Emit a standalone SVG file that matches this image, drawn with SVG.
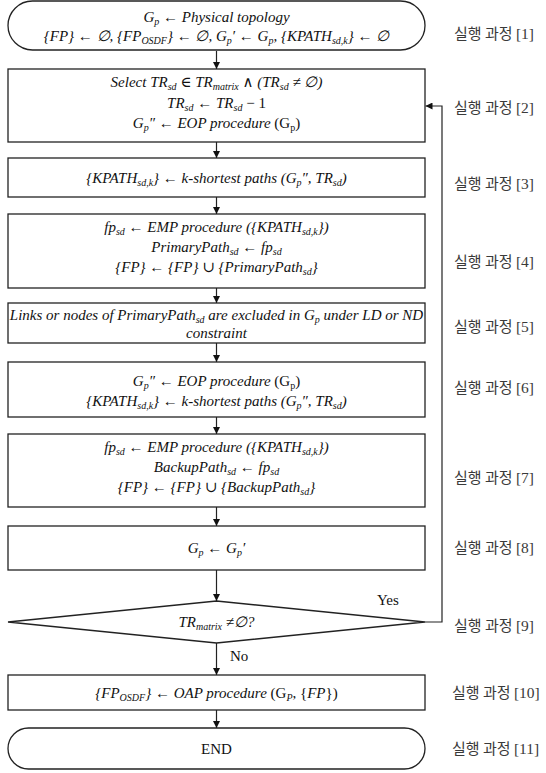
<svg xmlns="http://www.w3.org/2000/svg" width="546" height="773" viewBox="0 0 546 773">
  <style>
    .box { fill: #fff; stroke: #222; stroke-width: 1.3; }
    .ln { fill: none; stroke: #222; stroke-width: 1.2; }
    .m { font-family: "Liberation Serif", "DejaVu Serif", serif; font-style: italic; font-size: 15px; fill: #111; text-anchor: middle; }
    .r { font-family: "Liberation Serif", "DejaVu Serif", serif; font-size: 15px; fill: #111; }
    .s { font-size: 10px; }
    .u { font-style: normal; }
    .lab { font-family: "Noto Sans CJK KR", "Noto Sans", sans-serif; font-size: 15px; fill: #3a3a3a; }
    .lab tspan { font-family: "Liberation Serif", serif; font-size: 15.5px; }
  </style>
  <defs>
    <marker id="ah" viewBox="0 0 8 8" refX="8" refY="4" markerWidth="7" markerHeight="7" markerUnits="userSpaceOnUse" orient="auto">
      <path d="M0,0 L8,4 L0,8 z" fill="#111"/>
    </marker>
  </defs>

  <!-- connectors -->
  <g id="connectors">
    <line class="ln" x1="216.5" y1="51" x2="216.5" y2="69" marker-end="url(#ah)"/>
    <line class="ln" x1="216.5" y1="142" x2="216.5" y2="158" marker-end="url(#ah)"/>
    <line class="ln" x1="216.5" y1="197" x2="216.5" y2="214" marker-end="url(#ah)"/>
    <line class="ln" x1="216.5" y1="288" x2="216.5" y2="303" marker-end="url(#ah)"/>
    <line class="ln" x1="216.5" y1="343" x2="216.5" y2="362" marker-end="url(#ah)"/>
    <line class="ln" x1="216.5" y1="417" x2="216.5" y2="434" marker-end="url(#ah)"/>
    <line class="ln" x1="216.5" y1="507" x2="216.5" y2="526" marker-end="url(#ah)"/>
    <line class="ln" x1="216.5" y1="570" x2="216.5" y2="601" marker-end="url(#ah)"/>
    <line class="ln" x1="216.5" y1="643" x2="216.5" y2="675" marker-end="url(#ah)"/>
    <line class="ln" x1="216.5" y1="710" x2="216.5" y2="728" marker-end="url(#ah)"/>
    <polyline class="ln" points="425,622 442,622 442,106 425.5,106" marker-end="url(#ah)"/>
    <text class="r" x="377" y="605">Yes</text>
    <text class="r" x="230" y="661">No</text>
  </g>

  <!-- step 1: initialisation -->
  <g id="n1">
    <rect class="box" x="8" y="1" width="417" height="49" rx="24.5"/>
    <text class="m" x="216.5" y="22">G<tspan class="s" dy="3">p</tspan><tspan dy="-3"> ← Physical topology</tspan></text>
    <text class="m" x="216.5" y="41">{FP} ← ∅, {FP<tspan class="s" dy="3">OSDF</tspan><tspan dy="-3">} ← ∅, G</tspan><tspan class="s" dy="3">p</tspan><tspan dy="-3">′ ← G</tspan><tspan class="s" dy="3">p</tspan><tspan dy="-3">,  {KPATH</tspan><tspan class="s" dy="3">sd,k</tspan><tspan dy="-3">} ← ∅</tspan></text>
  </g>

  <!-- step 2 -->
  <g id="n2">
    <rect class="box" x="8" y="69" width="417" height="73"/>
    <text class="m" x="216.5" y="87">Select TR<tspan class="s" dy="3">sd</tspan><tspan dy="-3"> ∈ TR</tspan><tspan class="s" dy="3">matrix</tspan><tspan dy="-3"> ∧ (TR</tspan><tspan class="s" dy="3">sd</tspan><tspan dy="-3"> ≠ ∅)</tspan></text>
    <text class="m" x="216.5" y="108">TR<tspan class="s" dy="3">sd</tspan><tspan dy="-3"> ← TR</tspan><tspan class="s" dy="3">sd</tspan><tspan dy="-3" class="u">  − 1</tspan></text>
    <text class="m" x="216.5" y="128">G<tspan class="s" dy="3">p</tspan><tspan dy="-3">″ ← EOP procedure </tspan><tspan class="u">(G</tspan><tspan class="s u" dy="3">p</tspan><tspan dy="-3" class="u">)</tspan></text>
  </g>

  <!-- step 3 -->
  <g id="n3">
    <rect class="box" x="8" y="158" width="417" height="39"/>
    <text class="m" x="216.5" y="183">{KPATH<tspan class="s" dy="3">sd,k</tspan><tspan dy="-3">} ← k-shortest paths (G</tspan><tspan class="s" dy="3">p</tspan><tspan dy="-3">″, TR</tspan><tspan class="s" dy="3">sd</tspan><tspan dy="-3">)</tspan></text>
  </g>

  <!-- step 4 -->
  <g id="n4">
    <rect class="box" x="8" y="214" width="417" height="74"/>
    <text class="m" x="216.5" y="232">fp<tspan class="s" dy="3">sd</tspan><tspan dy="-3"> ← EMP procedure ({KPATH</tspan><tspan class="s" dy="3">sd,k</tspan><tspan dy="-3">})</tspan></text>
    <text class="m" x="216.5" y="252">PrimaryPath<tspan class="s" dy="3">sd</tspan><tspan dy="-3"> ← fp</tspan><tspan class="s" dy="3">sd</tspan></text>
    <text class="m" x="216.5" y="272">{FP}  ← {FP} ∪ {PrimaryPath<tspan class="s" dy="3">sd</tspan><tspan dy="-3">}</tspan></text>
  </g>

  <!-- step 5 -->
  <g id="n5">
    <rect class="box" x="8" y="303" width="417" height="40"/>
    <text class="m" x="216.5" y="320">Links or nodes of PrimaryPath<tspan class="s" dy="3">sd</tspan><tspan dy="-3"> are excluded in G</tspan><tspan class="s" dy="3">p</tspan><tspan dy="-3"> under LD or ND</tspan></text>
    <text class="m" x="216.5" y="338">constraint</text>
  </g>

  <!-- step 6 -->
  <g id="n6">
    <rect class="box" x="8" y="362" width="417" height="55"/>
    <text class="m" x="216.5" y="386">G<tspan class="s" dy="3">p</tspan><tspan dy="-3">″ ← EOP procedure </tspan><tspan class="u">(G</tspan><tspan class="s u" dy="3">p</tspan><tspan dy="-3" class="u">)</tspan></text>
    <text class="m" x="216.5" y="406">{KPATH<tspan class="s" dy="3">sd,k</tspan><tspan dy="-3">} ← k-shortest paths (G</tspan><tspan class="s" dy="3">p</tspan><tspan dy="-3">″, TR</tspan><tspan class="s" dy="3">sd</tspan><tspan dy="-3">)</tspan></text>
  </g>

  <!-- step 7 -->
  <g id="n7">
    <rect class="box" x="8" y="434" width="417" height="73"/>
    <text class="m" x="216.5" y="452">fp<tspan class="s" dy="3">sd</tspan><tspan dy="-3"> ← EMP procedure ({KPATH</tspan><tspan class="s" dy="3">sd,k</tspan><tspan dy="-3">})</tspan></text>
    <text class="m" x="216.5" y="472">BackupPath<tspan class="s" dy="3">sd</tspan><tspan dy="-3"> ← fp</tspan><tspan class="s" dy="3">sd</tspan></text>
    <text class="m" x="216.5" y="492">{FP}  ← {FP} ∪ {BackupPath<tspan class="s" dy="3">sd</tspan><tspan dy="-3">}</tspan></text>
  </g>

  <!-- step 8 -->
  <g id="n8">
    <rect class="box" x="8" y="526" width="417" height="44"/>
    <text class="m" x="216.5" y="553">G<tspan class="s" dy="3">p</tspan><tspan dy="-3"> ← G</tspan><tspan class="s" dy="3">p</tspan><tspan dy="-3">′</tspan></text>
  </g>

  <!-- step 9: decision -->
  <g id="n9">
    <polygon class="box" points="216.5,601 425,622 216.5,643 8,622"/>
    <text class="m" x="216.5" y="627">TR<tspan class="s" dy="3">matrix</tspan><tspan dy="-3"> ≠∅?</tspan></text>
  </g>

  <!-- step 10 -->
  <g id="n10">
    <rect class="box" x="8" y="675" width="417" height="35"/>
    <text class="m" x="216.5" y="698">{FP<tspan class="s" dy="3">OSDF</tspan><tspan dy="-3">} ← OAP procedure </tspan><tspan class="u">(G</tspan><tspan class="s" dy="3">P</tspan><tspan dy="-3" class="u">,  {</tspan><tspan>FP</tspan><tspan class="u">})</tspan></text>
  </g>

  <!-- step 11: end -->
  <g id="n11">
    <rect class="box" x="8" y="728" width="417" height="41" rx="20.5"/>
    <text class="m u" x="216.5" y="754">END</text>
  </g>

  <!-- step labels -->
  <g id="labels">
    <text class="lab" x="454" y="39">실행 과정 <tspan>[1]</tspan></text>
    <text class="lab" x="454" y="113">실행 과정 <tspan>[2]</tspan></text>
    <text class="lab" x="454" y="189">실행 과정 <tspan>[3]</tspan></text>
    <text class="lab" x="454" y="267">실행 과정 <tspan>[4]</tspan></text>
    <text class="lab" x="454" y="332">실행 과정 <tspan>[5]</tspan></text>
    <text class="lab" x="454" y="393">실행 과정 <tspan>[6]</tspan></text>
    <text class="lab" x="454" y="483">실행 과정 <tspan>[7]</tspan></text>
    <text class="lab" x="454" y="553">실행 과정 <tspan>[8]</tspan></text>
    <text class="lab" x="454" y="631">실행 과정 <tspan>[9]</tspan></text>
    <text class="lab" x="452" y="698">실행 과정 <tspan>[10]</tspan></text>
    <text class="lab" x="452" y="754">실행 과정 <tspan>[11]</tspan></text>
  </g>
</svg>
